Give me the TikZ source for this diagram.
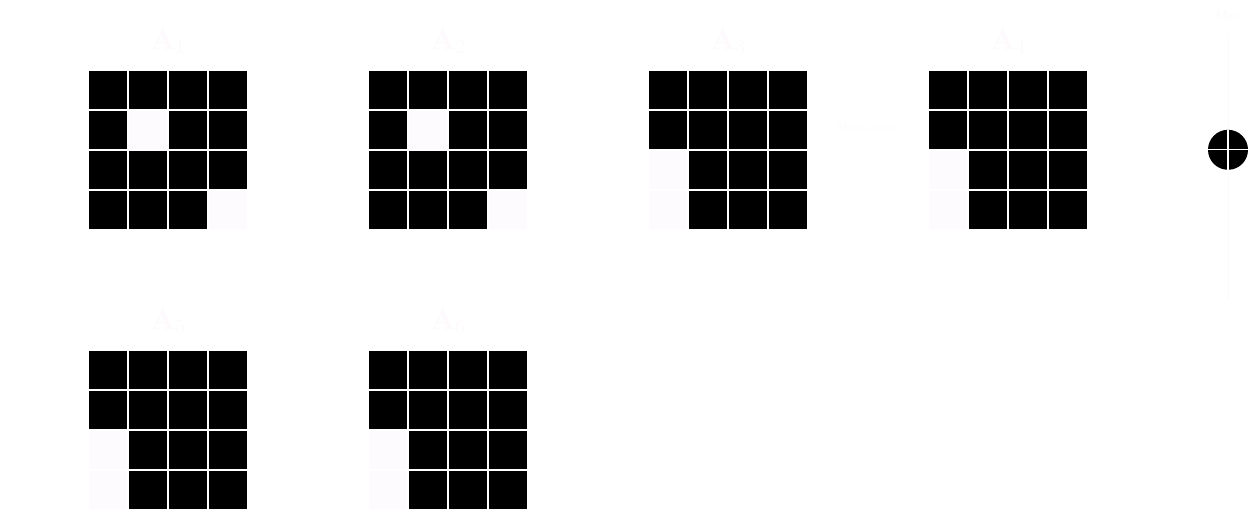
\documentclass[tikz,border=0pt]{standalone}
\usepackage{amssymb}
\usepackage{tikz}
\definecolor{ghost}{RGB}{253,249,253}
\definecolor{faint}{RGB}{250,250,250}
\definecolor{blank}{RGB}{254,251,255}

\begin{document}
\begin{tikzpicture}[every node/.style={minimum size=1cm, inner sep=0pt, outer sep=0pt}]
\useasboundingbox (0,-0.03) rectangle (31.45,12.745);

% A_1
\node[text=ghost] (lblA) at (4.2,11.7) {\huge $\mathbf{A}_1$};
\node[fill=black] (a11) at (2.7,10.5) {};
\node[fill=black] (a12) at (3.7,10.5) {};
\node[fill=black] (a13) at (4.7,10.5) {};
\node[fill=black] (a14) at (5.7,10.5) {};
\node[fill=black] (a21) at (2.7,9.5) {};
\node[fill=blank] (a22) at (3.7,9.5) {};
\node[fill=black] (a23) at (4.7,9.5) {};
\node[fill=black] (a24) at (5.7,9.5) {};
\node[fill=black] (a31) at (2.7,8.5) {};
\node[fill=black] (a32) at (3.7,8.5) {};
\node[fill=black] (a33) at (4.7,8.5) {};
\node[fill=black] (a34) at (5.7,8.5) {};
\node[fill=black] (a41) at (2.7,7.5) {};
\node[fill=black] (a42) at (3.7,7.5) {};
\node[fill=black] (a43) at (4.7,7.5) {};
\node[fill=blank] (a44) at (5.7,7.5) {};

% A_2
\node[text=ghost] (lblB) at (11.2,11.7) {\huge $\mathbf{A}_2$};
\node[fill=black] (b11) at (9.7,10.5) {};
\node[fill=black] (b12) at (10.7,10.5) {};
\node[fill=black] (b13) at (11.7,10.5) {};
\node[fill=black] (b14) at (12.7,10.5) {};
\node[fill=black] (b21) at (9.7,9.5) {};
\node[fill=blank] (b22) at (10.7,9.5) {};
\node[fill=black] (b23) at (11.7,9.5) {};
\node[fill=black] (b24) at (12.7,9.5) {};
\node[fill=black] (b31) at (9.7,8.5) {};
\node[fill=black] (b32) at (10.7,8.5) {};
\node[fill=black] (b33) at (11.7,8.5) {};
\node[fill=black] (b34) at (12.7,8.5) {};
\node[fill=black] (b41) at (9.7,7.5) {};
\node[fill=black] (b42) at (10.7,7.5) {};
\node[fill=black] (b43) at (11.7,7.5) {};
\node[fill=blank] (b44) at (12.7,7.5) {};

% A_3
\node[text=ghost] (lblC) at (18.2,11.7) {\huge $\mathbf{A}_3$};
\node[fill=black] (c11) at (16.7,10.5) {};
\node[fill=black] (c12) at (17.7,10.5) {};
\node[fill=black] (c13) at (18.7,10.5) {};
\node[fill=black] (c14) at (19.7,10.5) {};
\node[fill=black] (c21) at (16.7,9.5) {};
\node[fill=black] (c22) at (17.7,9.5) {};
\node[fill=black] (c23) at (18.7,9.5) {};
\node[fill=black] (c24) at (19.7,9.5) {};
\node[fill=blank] (c31) at (16.7,8.5) {};
\node[fill=black] (c32) at (17.7,8.5) {};
\node[fill=black] (c33) at (18.7,8.5) {};
\node[fill=black] (c34) at (19.7,8.5) {};
\node[fill=blank] (c41) at (16.7,7.5) {};
\node[fill=black] (c42) at (17.7,7.5) {};
\node[fill=black] (c43) at (18.7,7.5) {};
\node[fill=black] (c44) at (19.7,7.5) {};

\node[text=ghost, font=\scriptsize] (maxcol) at (21.7,9.57) {MaxColumn};

% A_4
\node[text=ghost] (lblD) at (25.2,11.7) {\huge $\mathbf{A}_4$};
\node[fill=black] (d11) at (23.7,10.5) {};
\node[fill=black] (d12) at (24.7,10.5) {};
\node[fill=black] (d13) at (25.7,10.5) {};
\node[fill=black] (d14) at (26.7,10.5) {};
\node[fill=black] (d21) at (23.7,9.5) {};
\node[fill=black] (d22) at (24.7,9.5) {};
\node[fill=black] (d23) at (25.7,9.5) {};
\node[fill=black] (d24) at (26.7,9.5) {};
\node[fill=blank] (d31) at (23.7,8.5) {};
\node[fill=black] (d32) at (24.7,8.5) {};
\node[fill=black] (d33) at (25.7,8.5) {};
\node[fill=black] (d34) at (26.7,8.5) {};
\node[fill=blank] (d41) at (23.7,7.5) {};
\node[fill=black] (d42) at (24.7,7.5) {};
\node[fill=black] (d43) at (25.7,7.5) {};
\node[fill=black] (d44) at (26.7,7.5) {};

% A_5
\node[text=ghost] (lblE) at (4.2,4.7) {\huge $\mathbf{A}_5$};
\node[fill=black] (e11) at (2.7,3.5) {};
\node[fill=black] (e12) at (3.7,3.5) {};
\node[fill=black] (e13) at (4.7,3.5) {};
\node[fill=black] (e14) at (5.7,3.5) {};
\node[fill=black] (e21) at (2.7,2.5) {};
\node[fill=black] (e22) at (3.7,2.5) {};
\node[fill=black] (e23) at (4.7,2.5) {};
\node[fill=black] (e24) at (5.7,2.5) {};
\node[fill=blank] (e31) at (2.7,1.5) {};
\node[fill=black] (e32) at (3.7,1.5) {};
\node[fill=black] (e33) at (4.7,1.5) {};
\node[fill=black] (e34) at (5.7,1.5) {};
\node[fill=blank] (e41) at (2.7,0.5) {};
\node[fill=black] (e42) at (3.7,0.5) {};
\node[fill=black] (e43) at (4.7,0.5) {};
\node[fill=black] (e44) at (5.7,0.5) {};

% A_6
\node[text=ghost] (lblF) at (11.2,4.7) {\huge $\mathbf{A}_6$};
\node[fill=black] (f11) at (9.7,3.5) {};
\node[fill=black] (f12) at (10.7,3.5) {};
\node[fill=black] (f13) at (11.7,3.5) {};
\node[fill=black] (f14) at (12.7,3.5) {};
\node[fill=black] (f21) at (9.7,2.5) {};
\node[fill=black] (f22) at (10.7,2.5) {};
\node[fill=black] (f23) at (11.7,2.5) {};
\node[fill=black] (f24) at (12.7,2.5) {};
\node[fill=blank] (f31) at (9.7,1.5) {};
\node[fill=black] (f32) at (10.7,1.5) {};
\node[fill=black] (f33) at (11.7,1.5) {};
\node[fill=black] (f34) at (12.7,1.5) {};
\node[fill=blank] (f41) at (9.7,0.5) {};
\node[fill=black] (f42) at (10.7,0.5) {};
\node[fill=black] (f43) at (11.7,0.5) {};
\node[fill=black] (f44) at (12.7,0.5) {};

\draw[step=1cm, color=white, very thick, shift={(2.2,7)}] (0,0) grid (4,4);
\draw[step=1cm, color=white, very thick, shift={(9.2,7)}] (0,0) grid (4,4);
\draw[step=1cm, color=white, very thick, shift={(16.2,7)}] (0,0) grid (4,4);
\draw[step=1cm, color=white, very thick, shift={(23.2,7)}] (0,0) grid (4,4);
\draw[step=1cm, color=white, very thick, shift={(2.2,0)}] (0,0) grid (4,4);
\draw[step=1cm, color=white, very thick, shift={(9.2,0)}] (0,0) grid (4,4);

% pooling
\node[text=ghost, minimum size=0pt] (maxtop) at (30.7,12.37) {\small Max};
\coordinate (tail) at (30.7,5.25);
\draw[color=faint] (maxtop.south) ++(0,-0.4) -- (tail);
\node[circle, fill=black] (pool) at (30.7,9) {};
\draw[color=white, thick] (pool.north) -- (pool.south);
\draw[color=white, thick] (pool.west) -- (pool.east);
\end{tikzpicture}
\end{document}
